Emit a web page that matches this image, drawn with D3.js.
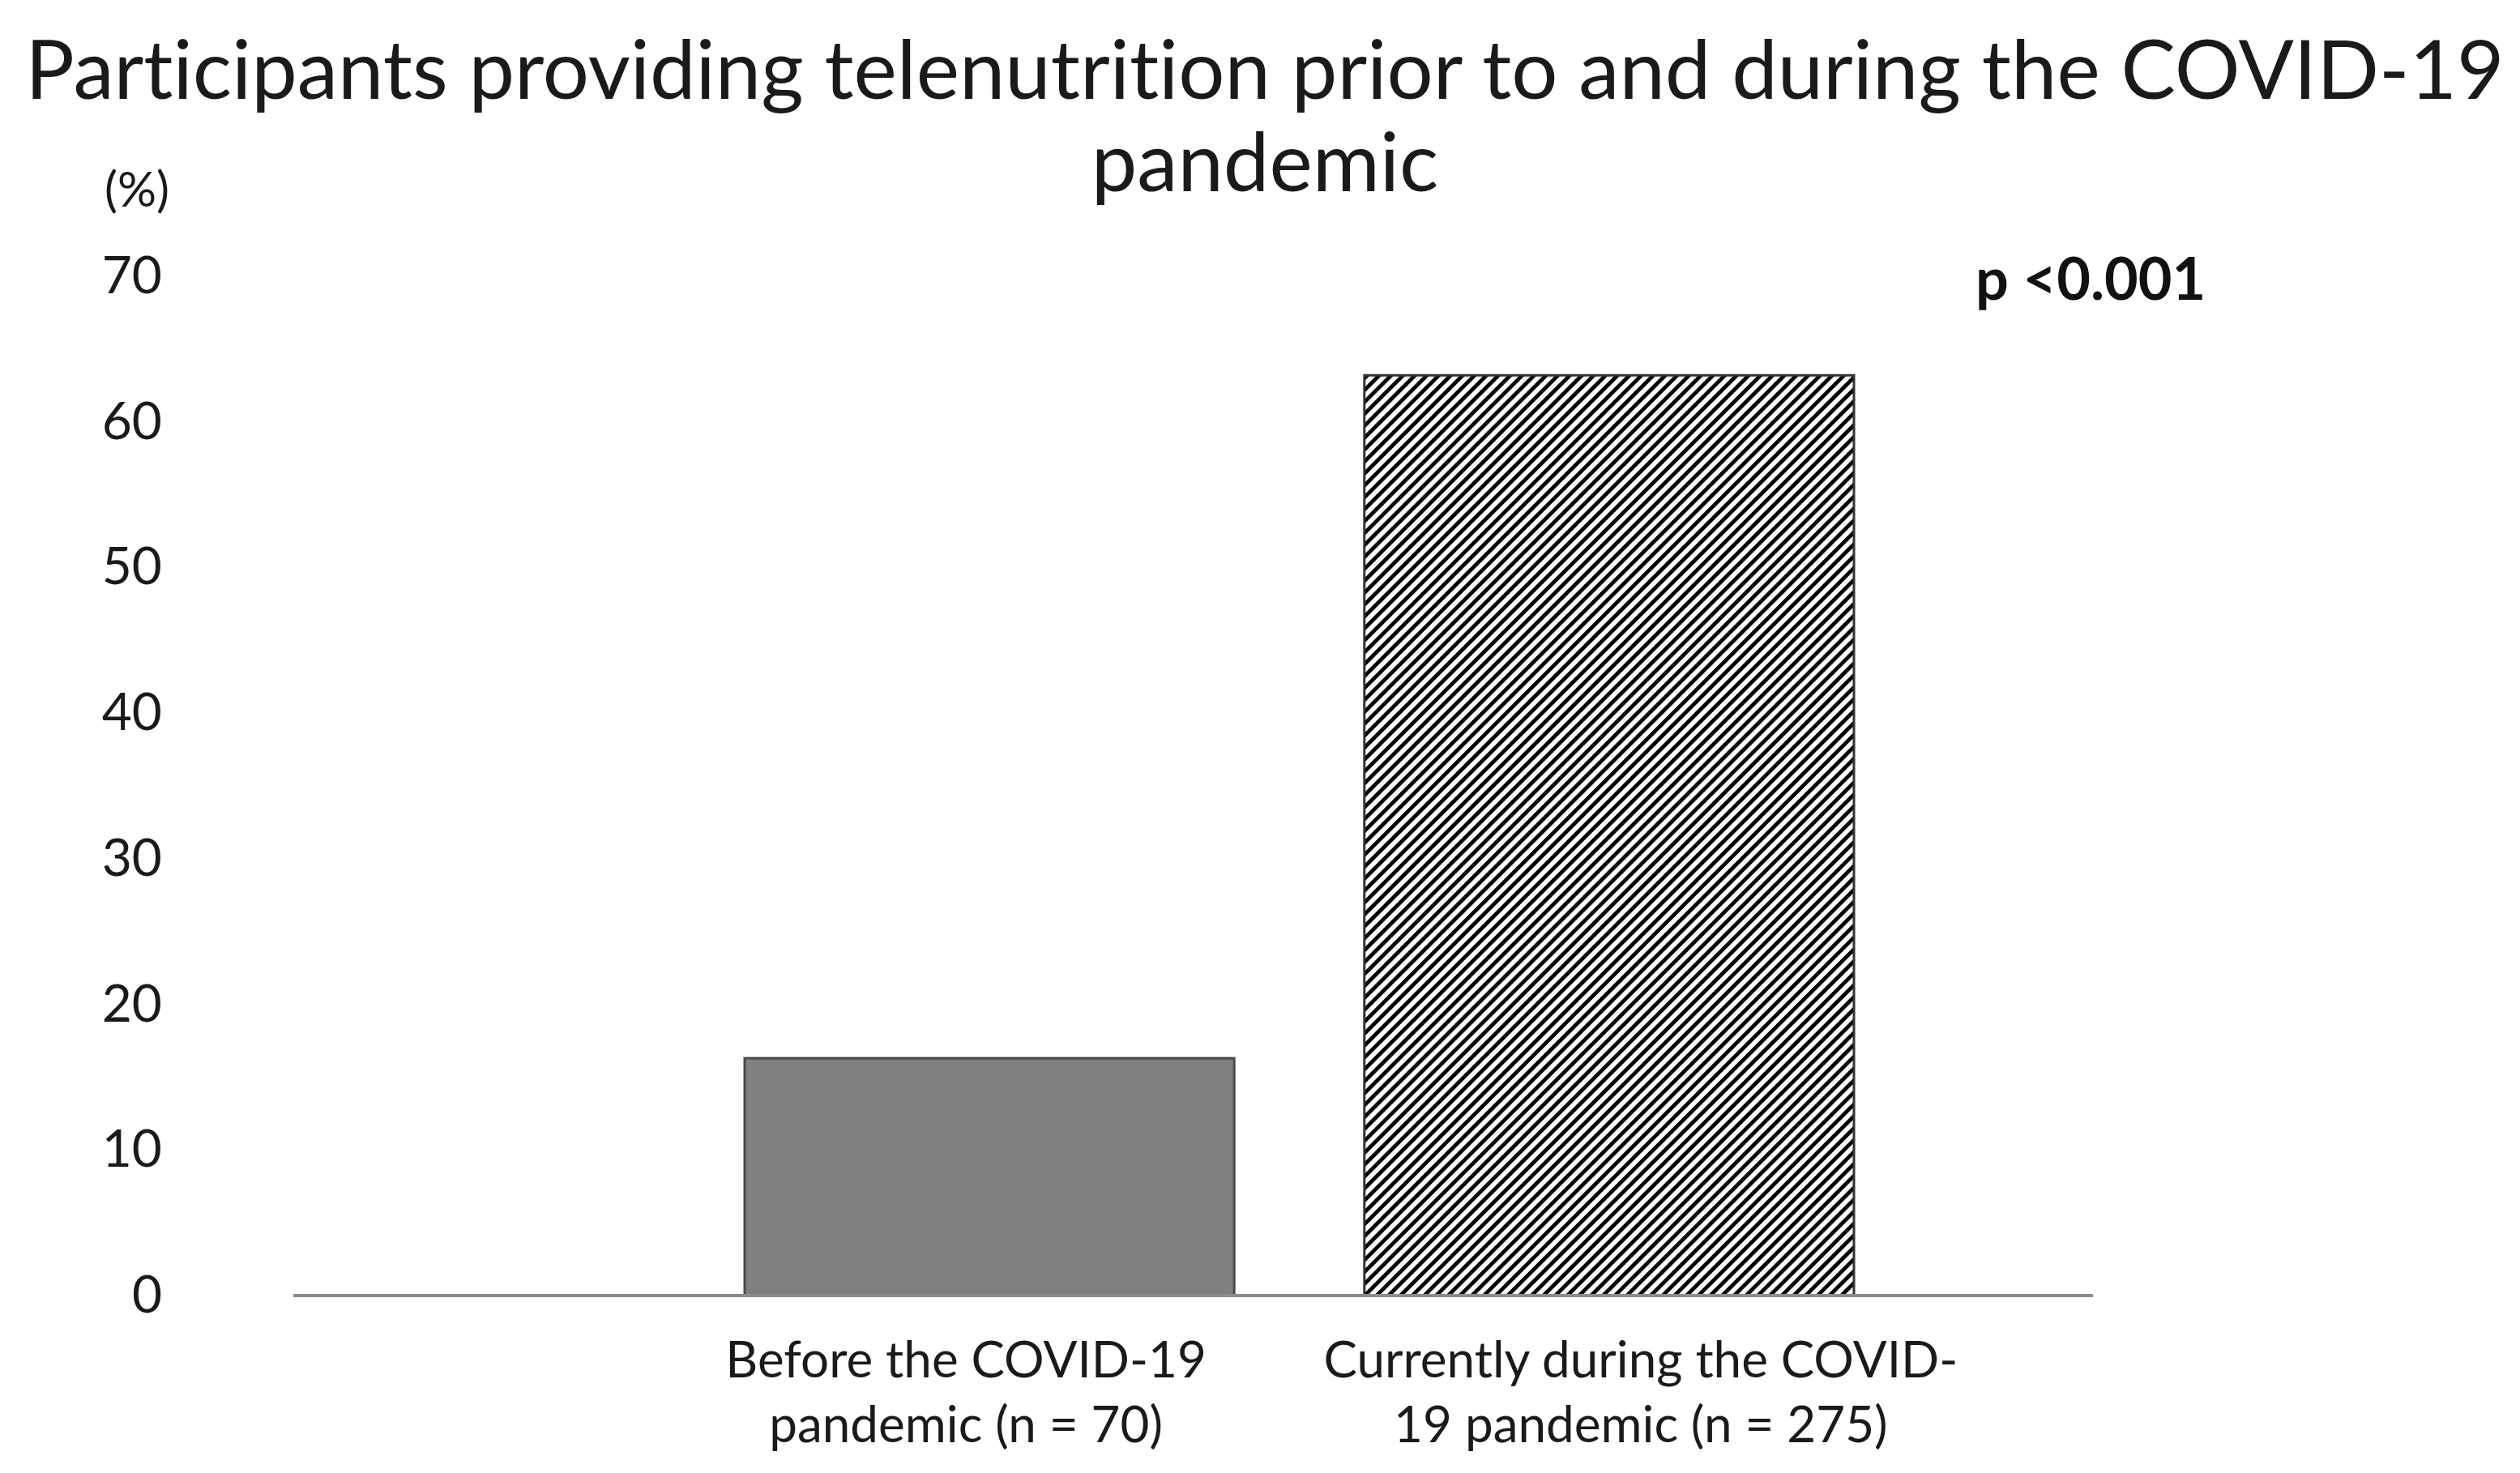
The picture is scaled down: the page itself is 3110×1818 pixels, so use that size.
<!DOCTYPE html>
<html lang="en">
<head>
    <script src="https://cdn.jsdelivr.net/npm/d3@7"></script>
    <style>
        body { margin: 0; background: #fff; }
        text { font-variant-ligatures: none; font-feature-settings: "liga" 0, "clig" 0; }
    </style>
</head>
<body>

<script>
    var w = 3110;
    var h = 1818;

    // data
    var categories = ['Before the COVID-19 pandemic (n = 70)', 'Currently during the COVID-19 pandemic (n = 275)'];
    var labelLines = [
        ['Before the COVID-19', 'pandemic (n = 70)'],
        ['Currently during the COVID-', '19 pandemic (n = 275)']
    ];
    var percent = [16.3, 63.2];
    var yTicks = [0, 10, 20, 30, 40, 50, 60, 70];
    var titleLines = ['Participants providing telenutrition prior to and during the COVID-19', 'pandemic'];

    var font = 'Lato, "Open Sans", sans-serif';

    var svg = d3.select('body').append('svg')
        .attr('width', w)
        .attr('height', h);

    var defs = svg.append('defs');
    var hatch = defs.append('pattern')
        .attr('id', 'hatch')
        .attr('patternUnits', 'userSpaceOnUse')
        .attr('width', 10.4)
        .attr('height', 10.4)
        .attr('patternTransform', 'rotate(45)');
    hatch.append('rect')
        .attr('width', 10.4).attr('height', 10.4)
        .attr('fill', '#fff');
    hatch.append('rect')
        .attr('width', 4.8).attr('height', 10.4)
        .attr('fill', '#000');

    var y = d3.scaleLinear()
        .domain([0, 70])
        .range([1599, 341]);

    var x = d3.scaleBand()
        .domain(categories)
        .range([838.7, 2368.3])
        .paddingInner(0.21)
        .paddingOuter(0.105);

    // title
    svg.append('text')
        .attr('x', 1561)
        .attr('y', 122)
        .attr('text-anchor', 'middle')
        .style('font-family', font)
        .style('font-size', '101px')
        .attr('fill', '#1a1a1a')
        .selectAll('tspan')
        .data(titleLines)
        .enter()
        .append('tspan')
        .attr('x', 1561)
        .attr('dy', function(d, i) { return i === 0 ? 0 : 114; })
        .text(function(d) { return d; });

    // y axis, labels only
    var yAxis = svg.append('g')
        .attr('transform', 'translate(200,0)')
        .call(d3.axisLeft(y).tickValues(yTicks).tickSize(0).tickPadding(0));
    yAxis.select('.domain').remove();
    yAxis.selectAll('text')
        .style('font-family', font)
        .style('font-size', '64px')
        .attr('fill', '#1a1a1a');

    svg.append('text')
        .attr('x', 129)
        .attr('y', 234)
        .attr('dy', '0.35em')
        .style('font-family', font)
        .style('font-size', '60px')
        .attr('fill', '#1a1a1a')
        .text('(%)');

    // bars
    svg.selectAll('.bar')
        .data(percent)
        .enter()
        .append('rect')
        .attr('class', 'bar')
        .attr('x', function(d, i) { return x(categories[i]); })
        .attr('y', function(d) { return y(d); })
        .attr('width', x.bandwidth())
        .attr('height', function(d) { return y(0) - y(d); })
        .attr('fill', function(d, i) { return i === 0 ? '#808080' : 'url(#hatch)'; })
        .attr('stroke', function(d, i) { return i === 0 ? '#4a4a4a' : '#333'; })
        .attr('stroke-width', 3);

    // baseline
    svg.append('line')
        .attr('x1', 362)
        .attr('x2', 2583)
        .attr('y1', y(0))
        .attr('y2', y(0))
        .attr('stroke', '#8c8c8c')
        .attr('stroke-width', 4);

    // category labels (wrapped the way the original does)
    var labelShift = [-29, 39];
    svg.selectAll('.xlab')
        .data(labelLines)
        .enter()
        .append('text')
        .attr('class', 'xlab')
        .attr('text-anchor', 'middle')
        .attr('y', 1700)
        .style('font-family', font)
        .style('font-size', '62px')
        .attr('fill', '#1a1a1a')
        .each(function(lines, i) {
            var cx = x(categories[i]) + x.bandwidth() / 2 + labelShift[i];
            d3.select(this).selectAll('tspan')
                .data(lines)
                .enter()
                .append('tspan')
                .attr('x', cx)
                .attr('dy', function(d, j) { return j === 0 ? 0 : 80; })
                .text(function(d) { return d; });
        });

    // significance
    svg.append('text')
        .attr('x', 2438)
        .attr('y', 370)
        .style('font-family', font)
        .style('font-size', '72px')
        .style('font-weight', 'bold')
        .attr('fill', '#111')
        .text('p <0.001');

</script>
</body>
</html>
